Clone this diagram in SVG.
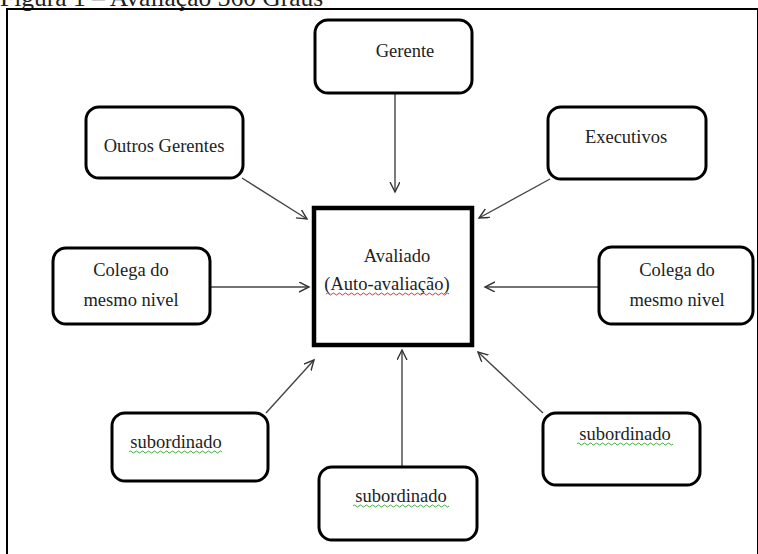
<svg xmlns="http://www.w3.org/2000/svg" width="758" height="554" viewBox="0 0 758 554">
<defs>
<marker id="ah" markerWidth="12" markerHeight="12" refX="10" refY="5" orient="auto" markerUnits="userSpaceOnUse">
<path d="M0,0 L10,5 L0,10" fill="none" stroke="#333" stroke-width="1.4"/>
</marker>
<style>
text{font-family:"Liberation Serif","Times New Roman",serif;fill:#222;font-size:18.5px}
.node{fill:#fff;stroke:#000;stroke-width:3}
.con{stroke:#444;stroke-width:1.4;fill:none;marker-end:url(#ah)}
.red{fill:none;stroke:#d33;stroke-width:1}
.grn{fill:none;stroke:#4a4;stroke-width:1}
</style>
</defs>
<rect width="758" height="554" fill="#fff"/>
<text x="0" y="6" style="font-size:25.5px" fill="#000">Figura 1 – Avaliação 360 Graus</text>
<rect x="7" y="9" width="751" height="560" fill="none" stroke="#000" stroke-width="2"/>
<g id="connectors">
<line class="con" x1="395" y1="93" x2="395" y2="192"/>
<line class="con" x1="242" y1="178" x2="307" y2="219"/>
<line class="con" x1="550" y1="179" x2="479" y2="218"/>
<line class="con" x1="210" y1="287" x2="309" y2="287"/>
<line class="con" x1="599" y1="287" x2="485" y2="287"/>
<line class="con" x1="266" y1="413" x2="314" y2="360"/>
<line class="con" x1="402" y1="467" x2="402" y2="350"/>
<line class="con" x1="543" y1="413" x2="478" y2="352"/>
</g>
<g id="gerente">
<rect class="node" x="315" y="20" width="157" height="73" rx="13"/>
<text x="405" y="57" text-anchor="middle">Gerente</text>
</g>
<g id="outros-gerentes">
<rect class="node" x="86" y="107" width="157" height="71" rx="13"/>
<text x="164" y="152" text-anchor="middle">Outros Gerentes</text>
</g>
<g id="executivos">
<rect class="node" x="548" y="107" width="158" height="72" rx="13"/>
<text x="626" y="143" text-anchor="middle">Executivos</text>
</g>
<g id="avaliado">
<rect x="314" y="208" width="158" height="137" fill="#fff" stroke="#000" stroke-width="4.5"/>
<text x="397" y="262" text-anchor="middle">Avaliado</text>
<text x="387" y="290" text-anchor="middle">(Auto-avaliação)</text>
<path class="red" d="M326,294 q1.5,-2 3,0 t3,0 t3,0 t3,0 t3,0 t3,0 t3,0 t3,0 t3,0 t3,0 t3,0 t3,0 t3,0 t3,0 t3,0 t3,0 t3,0 t3,0 t3,0 t3,0 t3,0 t3,0 t3,0 t3,0 t3,0 t3,0 t3,0 t3,0 t3,0 t3,0 t3,0 t3,0 t3,0 t3,0 t3,0 t3,0 t3,0 t3,0 t3,0 t3,0 t3,0"/>
</g>
<g id="colega-esq">
<rect class="node" x="53" y="248" width="157" height="76" rx="13"/>
<text x="131" y="276" text-anchor="middle">Colega do</text>
<text x="131" y="306" text-anchor="middle">mesmo nivel</text>
</g>
<g id="colega-dir">
<rect class="node" x="599" y="247" width="154" height="77" rx="13"/>
<text x="677" y="276" text-anchor="middle">Colega do</text>
<text x="677" y="306" text-anchor="middle">mesmo nivel</text>
</g>
<g id="subordinado-esq">
<rect class="node" x="112" y="413" width="156" height="68" rx="13"/>
<text x="176" y="448" text-anchor="middle">subordinado</text>
<path class="grn" d="M129,452 q1.5,-2 3,0 t3,0 t3,0 t3,0 t3,0 t3,0 t3,0 t3,0 t3,0 t3,0 t3,0 t3,0 t3,0 t3,0 t3,0 t3,0 t3,0 t3,0 t3,0 t3,0 t3,0 t3,0 t3,0 t3,0 t3,0 t3,0 t3,0 t3,0 t3,0 t3,0 t3,0"/>
</g>
<g id="subordinado-baixo">
<rect class="node" x="319" y="467" width="158" height="73" rx="13"/>
<text x="401" y="502" text-anchor="middle">subordinado</text>
<path class="grn" d="M353,506 q1.5,-2 3,0 t3,0 t3,0 t3,0 t3,0 t3,0 t3,0 t3,0 t3,0 t3,0 t3,0 t3,0 t3,0 t3,0 t3,0 t3,0 t3,0 t3,0 t3,0 t3,0 t3,0 t3,0 t3,0 t3,0 t3,0 t3,0 t3,0 t3,0 t3,0 t3,0 t3,0 t3,0"/>
</g>
<g id="subordinado-dir">
<rect class="node" x="543" y="413" width="157" height="72" rx="13"/>
<text x="625" y="440" text-anchor="middle">subordinado</text>
<path class="grn" d="M577,444 q1.5,-2 3,0 t3,0 t3,0 t3,0 t3,0 t3,0 t3,0 t3,0 t3,0 t3,0 t3,0 t3,0 t3,0 t3,0 t3,0 t3,0 t3,0 t3,0 t3,0 t3,0 t3,0 t3,0 t3,0 t3,0 t3,0 t3,0 t3,0 t3,0 t3,0 t3,0 t3,0 t3,0"/>
</g>
</svg>
